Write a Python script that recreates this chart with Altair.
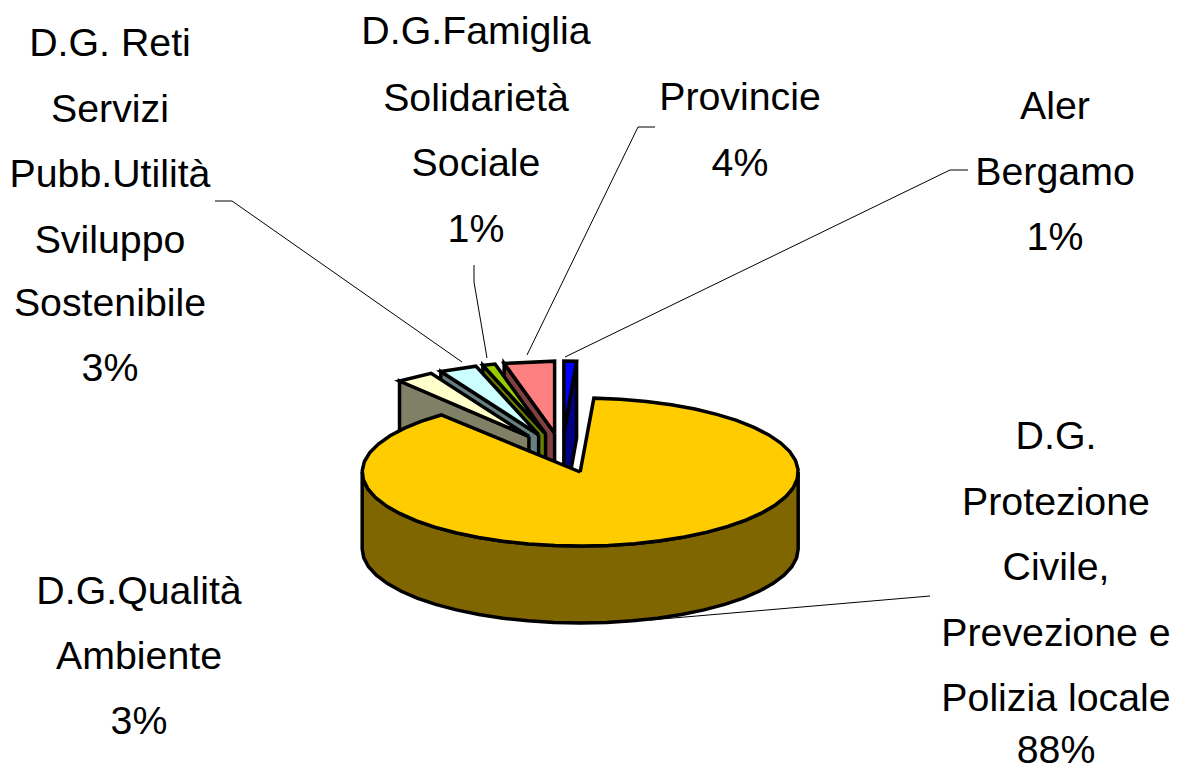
import math
import altair as alt
import pandas as pd

# Slices, clockwise from 12 o'clock
names = ["Aler Bergamo", "D.G. Protezione Civile", "D.G.Qualità Ambiente", "D.G. Reti", "D.G.Famiglia", "Provincie"]
shares = [1, 88, 3, 3, 1, 4]
top_colors = ["#0000FF", "#FFCC00", "#FFFFCC", "#CCFFFF", "#99CC00", "#FF8080"]
side_colors = ["#000080", "#806600", "#808066", "#668080", "#667F00", "#804040"]
paint_order = [0, 5, 4, 3, 2, 1]

# Pseudo-3D pie projection
CX, CY, RX, RY, DEPTH, EXPLODE, STEP = 562, 453, 218, 74, 77, 0.27, 7
RX_SMALL, RY_SMALL = 203, 72

label_groups = [
    (110, [44, 110, 175, 241, 304, 369], ["D.G. Reti", "Servizi", "Pubb.Utilità", "Sviluppo", "Sostenibile", "3%"]),
    (476, [32, 99, 164, 230], ["D.G.Famiglia", "Solidarietà", "Sociale", "1%"]),
    (740, [98, 164], ["Provincie", "4%"]),
    (1055, [107, 173, 238], ["Aler", "Bergamo", "1%"]),
    (1056, [437, 503, 568, 634, 699, 751], ["D.G.", "Protezione", "Civile,", "Prevezione e", "Polizia locale", "88%"]),
    (139, [592, 657, 722], ["D.G.Qualità", "Ambiente", "3%"]),
]
leaders = [
    ([215, 232, 462], [201, 201, 362]),
    ([474, 474, 487], [265, 282, 358]),
    ([655, 638, 527], [127, 127, 355]),
    ([968, 950, 565], [170, 170, 357]),
    ([930, 650], [596, 620]),
]

W, H = 1164, 764
xs = alt.Scale(domain=[8, 8 + W], range=[0, W], nice=False, zero=False)
ys = alt.Scale(domain=[8, 8 + H], range=[0, H], nice=False, zero=False)
X = lambda f: alt.X(f, type="quantitative", scale=xs, axis=None)
Y = lambda f: alt.Y(f, type="quantitative", scale=ys, axis=None)


def pt(ax, ay, deg, dz=0, rx=RX, ry=RY):
    t = math.radians(deg)
    return ax + rx * math.sin(t), ay - ry * math.cos(t) + dz


def arc(ax, ay, a, b, dz=0, rx=RX, ry=RY, n=None):
    n = n or max(1, round((b - a) / STEP))
    return [pt(ax, ay, a + (b - a) * i / n, dz, rx, ry) for i in range(n + 1)]


def poly(points, fill):
    closed = points + [points[0]]
    df = pd.DataFrame({"x": [p[0] for p in closed], "y": [p[1] for p in closed], "i": range(len(closed))})
    return alt.Chart(df).mark_line(
        fill=fill, stroke="#000000", strokeWidth=3.5, strokeJoin="miter", clip=False
    ).encode(x=X("x"), y=Y("y"), order=alt.Order("i:Q"))


starts, acc = [], 0.0
for s in shares:
    starts.append(acc)
    acc += s
total = sum(shares)

layers = []
for k in paint_order:
    a = starts[k] / total * 360
    b = (starts[k] + shares[k]) / total * 360
    mid = (a + b) / 2
    ax = CX + EXPLODE * RX * math.sin(math.radians(mid))
    ay = CY - EXPLODE * RY * math.cos(math.radians(mid))
    if k == 1:
        # Outer rim of the large slice
        lo, hi = 90, 270
        rim = arc(ax, ay, lo, hi) + arc(ax, ay, lo, hi, DEPTH)[::-1]
        layers.append(poly(rim, side_colors[k]))
        layers.append(poly([(ax, ay)] + arc(ax, ay, a, b), top_colors[k]))
    else:
        # Cut face: clockwise edge for the first slice, counter-clockwise edge for the others
        e = pt(ax, ay, b if k == 0 else a, 0, RX_SMALL, RY_SMALL)
        layers.append(poly([(ax, ay), e, (e[0], e[1] + DEPTH), (ax, ay + DEPTH)], side_colors[k]))
        layers.append(poly([(ax, ay)] + arc(ax, ay, a, b, 0, RX_SMALL, RY_SMALL, 1), top_colors[k]))

for lx, ly in leaders:
    d = pd.DataFrame({"x": lx, "y": ly, "i": range(len(lx))})
    layers.append(
        alt.Chart(d).mark_line(color="#000000", strokeWidth=1).encode(x=X("x"), y=Y("y"), order=alt.Order("i:Q"))
    )

rows = []
for cx, yy, tt in label_groups:
    for y, t in zip(yy, tt):
        rows.append({"x": cx, "y": y, "t": t})
labels = (
    alt.Chart(pd.DataFrame(rows))
    .mark_text(font="Liberation Sans", fontSize=39.3, align="center", baseline="middle", color="#000000", clip=False)
    .encode(x=X("x"), y=Y("y"), text="t:N")
)
layers.append(labels)

chart = (
    alt.layer(*layers)
    .properties(width=W, height=H, padding=0, background="#FFFFFF", autosize=alt.AutoSizeParams(type="none"))
    .configure_view(stroke=None)
)
chart.save("out.html", embed_options={"renderer": "svg", "actions": False})
